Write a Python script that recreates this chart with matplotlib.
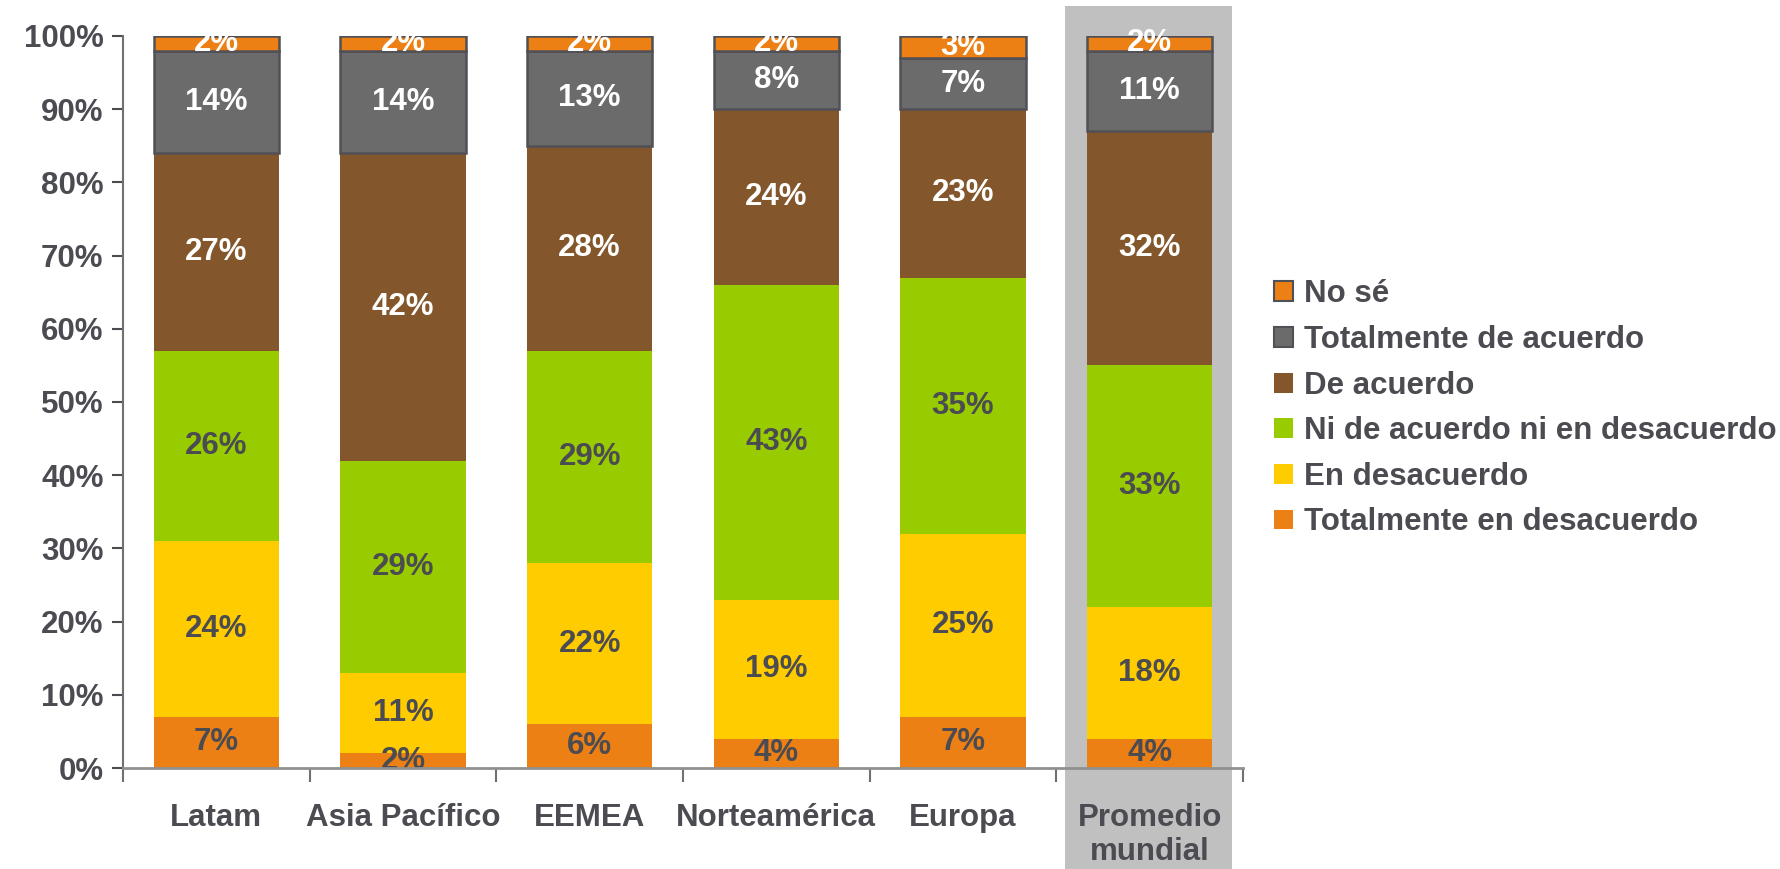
import numpy as np
import matplotlib
matplotlib.use("Agg")
import matplotlib.pyplot as plt
from matplotlib.patches import Rectangle, Patch

plt.rcParams['font.family'] = ['Liberation Sans', 'DejaVu Sans']
plt.rcParams['font.weight'] = 'bold'

# Data (percent)
categories = ['Latam', 'Asia Pacífico', 'EEMEA', 'Norteamérica', 'Europa', 'Promedio\nmundial']
series_names = ['Totalmente en desacuerdo', 'En desacuerdo', 'Ni de acuerdo ni en desacuerdo',
                'De acuerdo', 'Totalmente de acuerdo', 'No sé']
tot_desacuerdo = [7, 2, 6, 4, 7, 4]
desacuerdo = [24, 11, 22, 19, 25, 18]
neutral = [26, 29, 29, 43, 35, 33]
de_acuerdo = [27, 42, 28, 24, 23, 32]
tot_acuerdo = [14, 14, 13, 8, 7, 11]
no_se = [2, 2, 2, 2, 3, 2]

series = [tot_desacuerdo, desacuerdo, neutral, de_acuerdo, tot_acuerdo, no_se]
colors = ['#EC8014', '#FFCC00', '#99CC00', '#83572B', '#6B6B6B', '#EC8014']
label_colors = ['#4B4B52', '#4B4B52', '#4B4B52', 'white', 'white', 'white']
edges = [False, False, False, False, True, True]

text_col = '#4B4B52'
edge_col = '#505057'
fs = 22.5

fig = plt.figure(figsize=(17.8, 8.69), dpi=100)
ax = fig.add_axes([0.0691, 0.1162, 0.6292, 0.8424])
ax.patch.set_alpha(0)

x = np.arange(len(categories))
width = 0.67

# grey highlight behind the world average
ax.add_patch(Rectangle((4.546, -0.2), 0.894, 1.241, facecolor='#C0C0C0',
                       edgecolor='none', zorder=0, clip_on=False))

bottom = np.zeros(len(categories))
for vals, c, lc, e in zip(series, colors, label_colors, edges):
    v = np.array(vals) / 100.0
    ax.bar(x, v, width, bottom=bottom, color=c,
           edgecolor=edge_col if e else 'none', linewidth=1.8 if e else 0, zorder=2)
    for i in range(len(categories)):
        ax.text(x[i], bottom[i] + v[i] / 2, f'{vals[i]}%', ha='center', va='center',
                fontsize=fs, fontweight='bold', color=lc, zorder=4)
    bottom += v

ax.set_xlim(-0.5, 5.5)
ax.set_ylim(0, 1)
ax.set_yticks(np.arange(0, 1.01, 0.1))
ax.set_yticklabels([f'{int(round(t * 100))}%' for t in np.arange(0, 1.01, 0.1)])
ax.set_xticks(x)
ax.set_xticklabels(categories)
ax.set_xticks(np.arange(-0.5, 5.6, 1), minor=True)

ax.tick_params(axis='y', labelsize=fs, colors=text_col, length=8, width=1.5, direction='out', pad=6)
ax.tick_params(axis='x', which='major', length=0, labelsize=fs, labelcolor=text_col, pad=25)
ax.tick_params(axis='x', which='minor', length=10, width=1.5, color='#707070', direction='out')
for lab in ax.get_xticklabels() + ax.get_yticklabels():
    lab.set_fontweight('bold')
for lab in ax.get_xticklabels():
    lab.set_verticalalignment('top')
    lab.set_linespacing(1.2)

for s in ['top', 'right']:
    ax.spines[s].set_visible(False)
ax.spines['left'].set_color('#707070')
ax.spines['left'].set_linewidth(1.5)
ax.spines['bottom'].set_color('#909090')
ax.spines['bottom'].set_linewidth(2)
ax.spines['bottom'].set_zorder(5)

handles = []
for name, c, e in zip(series_names, colors, edges):
    handles.append(Patch(facecolor=c, edgecolor=edge_col if e else c, linewidth=1.5 if e else 0,
                         label=name))
leg = fig.legend(handles[::-1], series_names[::-1], loc='center left',
                 bbox_to_anchor=(0.7, 0.53), frameon=False, fontsize=fs,
                 handlelength=0.6, handleheight=0.6, handletextpad=0.35, labelspacing=0.5)
for t in leg.get_texts():
    t.set_color(text_col)
    t.set_fontweight('bold')

fig.savefig('out.png', dpi=100)
